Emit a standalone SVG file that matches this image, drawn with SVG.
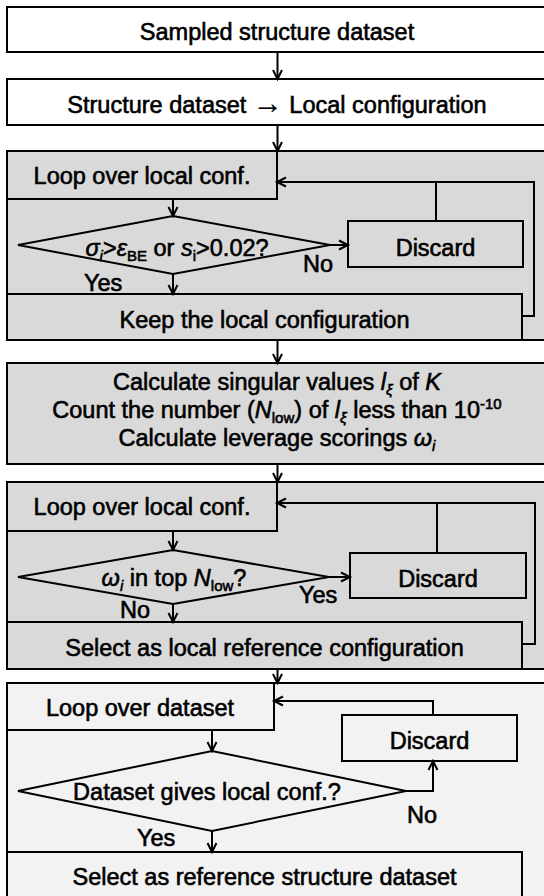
<svg xmlns="http://www.w3.org/2000/svg" width="544" height="896" viewBox="0 0 544 896">
<style>
text{font-family:"Liberation Sans",Arial,sans-serif;font-size:23.5px;fill:#000;stroke:#000;stroke-width:0.6px}
.c{text-anchor:middle}
.i{font-style:italic}
.sb{font-size:15px}
.arr{font-family:"Liberation Serif",serif;font-size:30px;stroke-width:0.3px}
.box{stroke:#000;stroke-width:2}
.w{fill:#fff}
.g{fill:#d9d9d9}
.l{fill:#f2f2f2}
.cn{fill:none;stroke:#000;stroke-width:2}
.ar{marker-end:url(#ah)}
</style>
<defs>
<marker id="ah" markerUnits="userSpaceOnUse" markerWidth="14" markerHeight="14" viewBox="-11 -7 14 14" refX="0" refY="0" orient="auto">
<path d="M-9,-4.5 L0,0 L-9,4.5" fill="none" stroke="#000" stroke-width="2"/>
</marker>
</defs>

<g id="n-sampled"><rect class="box w" x="7" y="7" width="548" height="45"/><text class="c" x="277" y="40">Sampled structure dataset</text></g>
<g id="n-local"><rect class="box w" x="7" y="79" width="548" height="46"/><text class="c" x="277" y="113">Structure dataset <tspan class="arr">→</tspan> Local configuration</text></g>

<g id="grp1"><rect class="box g" x="7" y="151" width="548" height="189"/></g>
<g id="n-loop1"><rect class="box g" x="7" y="151" width="270" height="48"/><text class="c" x="142" y="184">Loop over local conf.</text></g>
<g id="n-dec1"><path class="box g" d="M18,245 L173,216 L330,245 L173,274 Z"/><text class="c" x="177" y="256"><tspan class="i">σ</tspan><tspan class="i sb" dy="5">i</tspan><tspan dy="-5">&gt;</tspan><tspan class="i">ε</tspan><tspan class="sb" dy="5">BE</tspan><tspan dy="-5"> or </tspan><tspan class="i">s</tspan><tspan class="sb" dy="5">i</tspan><tspan dy="-5">&gt;0.02?</tspan></text></g>
<g id="n-discard1"><rect class="box g" x="348" y="221" width="175" height="46"/><text class="c" x="435.5" y="256">Discard</text></g>
<g id="n-keep"><rect class="box g" x="7" y="294" width="515" height="46"/><text class="c" x="264.5" y="328">Keep the local configuration</text></g>

<g id="n-calc"><rect class="box g" x="7" y="363" width="548" height="101"/>
<text class="c" x="277" y="390">Calculate singular values <tspan class="i">l</tspan><tspan class="i sb" dy="5">ξ</tspan><tspan dy="-5"> of </tspan><tspan class="i">K</tspan></text>
<text class="c" x="277" y="418">Count the number (<tspan class="i">N</tspan><tspan class="sb" dy="5">low</tspan><tspan dy="-5">) of  </tspan><tspan class="i">l</tspan><tspan class="i sb" dy="5">ξ</tspan><tspan dy="-5"> less than 10</tspan><tspan class="sb" dy="-9">-10</tspan></text>
<text class="c" x="277" y="446">Calculate leverage scorings <tspan class="i">ω</tspan><tspan class="i sb" dy="5">i</tspan></text>
</g>

<g id="grp3"><rect class="box g" x="7" y="482" width="548" height="187"/></g>
<g id="n-loop3"><rect class="box g" x="7" y="482" width="270" height="49"/><text class="c" x="142" y="515">Loop over local conf.</text></g>
<g id="n-dec3"><path class="box g" d="M18,577 L173,550 L329,577 L173,604 Z"/><text class="c" x="174" y="586"><tspan class="i">ω</tspan><tspan class="i sb" dy="5">i</tspan><tspan dy="-5"> in top </tspan><tspan class="i">N</tspan><tspan class="sb" dy="5">low</tspan><tspan dy="-5">?</tspan></text></g>
<g id="n-discard3"><rect class="box g" x="350" y="553" width="176" height="45"/><text class="c" x="438" y="587">Discard</text></g>
<g id="n-select3"><rect class="box g" x="7" y="622" width="515" height="47"/><text class="c" x="264.5" y="656">Select as local reference configuration</text></g>

<g id="grp4"><rect class="box l" x="7" y="683" width="548" height="220"/></g>
<g id="n-loop4"><rect class="box l" x="7" y="683" width="267" height="47"/><text class="c" x="140" y="716">Loop over dataset</text></g>
<g id="n-dec4"><path class="box l" d="M18,791 L212,751 L406,791 L212,831 Z"/><text class="c" x="207" y="800">Dataset gives local conf.?</text></g>
<g id="n-discard4"><rect class="box l" x="342" y="715" width="175" height="46"/><text class="c" x="429.5" y="749">Discard</text></g>
<g id="n-select4"><rect class="box l" x="7" y="852" width="515" height="50"/><text class="c" x="264.5" y="885">Select as reference structure dataset</text></g>

<g id="connectors">
<path class="cn ar" d="M277.5,52 V79"/>
<path class="cn ar" d="M277.5,125 V151"/>
<path class="cn ar" d="M173,199 V216"/>
<path class="cn ar" d="M330,245 H348"/>
<path class="cn ar" d="M173,274 V294"/>
<path class="cn" d="M436,221 V182"/>
<path class="cn ar" d="M522,316 H534 V182 H277"/>
<path class="cn ar" d="M277.5,340 V363"/>
<path class="cn ar" d="M277.5,464 V482"/>
<path class="cn ar" d="M173,531 V550"/>
<path class="cn ar" d="M329,577 H350"/>
<path class="cn ar" d="M173,604 V622"/>
<path class="cn" d="M437,553 V503"/>
<path class="cn ar" d="M522,644 H535 V503 H277"/>
<path class="cn ar" d="M277.5,669 V683"/>
<path class="cn ar" d="M212,730 V751"/>
<path class="cn ar" d="M406,791 H433 V761"/>
<path class="cn ar" d="M433,715 V701 H274"/>
<path class="cn ar" d="M212,831 V852"/>
</g>

<g id="labels">
<text x="303" y="272">No</text>
<text x="84" y="291">Yes</text>
<text x="299" y="603">Yes</text>
<text x="120" y="618">No</text>
<text x="407" y="823">No</text>
<text x="137" y="846">Yes</text>
</g>
</svg>
